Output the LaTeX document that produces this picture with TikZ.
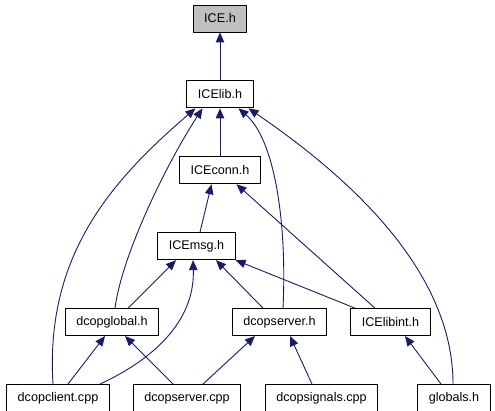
\documentclass[tikz,border=0pt]{standalone}
\usepackage{fontspec}
\setmainfont{Liberation Sans}
\usepackage{tikz}
\usetikzlibrary{arrows.meta, positioning}

\definecolor{edgeblue}{HTML}{191970}
\definecolor{rootgray}{HTML}{BFBFBF}

\begin{document}
\begin{tikzpicture}[
        x=1pt, y=1pt,
        node distance=48pt,
        file/.style={draw, fill=white, rectangle, line width=0.9pt, minimum height=27pt, inner xsep=11pt, font=\fontsize{12.6}{14}\selectfont},
        dep/.style={-{Triangle[length=10pt, width=8.5pt, fill=edgeblue]}, draw=edgeblue, line width=0.9pt}
    ]
        \useasboundingbox (0,0) rectangle (495,-411);
        % Nodes
        \node (ice) [file, fill=rootgray] at (220,-18.5) {ICE.h};
        \node (icelib) [file, below=of ice] {ICElib.h};
        \node (iceconn) [file, below=of icelib] {ICEconn.h};
        \node (icemsg) [file, below=of iceconn, xshift=-23.5] {ICEmsg.h};
        \node (dcopglobal) [file, below=of icemsg, xshift=-84.5] {dcopglobal.h};
        \node (dcopserverh) [file, below=of icemsg, xshift=83] {dcopserver.h};
        \node (icelibint) [file, below=of icemsg, xshift=194] {ICElibint.h};
        \node (dcopclient) [file, below=of dcopglobal, xshift=-54] {dcopclient.cpp};
        \node (dcopservercpp) [file, below=of dcopglobal, xshift=75] {dcopserver.cpp};
        \node (dcopsignals) [file, below=of dcopserverh, xshift=42] {dcopsignals.cpp};
        \node (globals) [file, below=of icelibint, xshift=63.5] {globals.h};

        % Paths
        \draw [dep] (icelib) -- (ice);
        \draw [dep] (iceconn) -- (icelib);
        \draw [dep] ([xshift=-5]dcopclient.north) .. controls +(-8,128) and +(-85,-73) .. ([xshift=-24.5]icelib.south);
        \draw [dep] ([xshift=3]dcopglobal.north) .. controls +(7,53) and +(-37,-57) .. ([xshift=-17.5]icelib.south);
        \draw [dep] ([xshift=3.5]dcopserverh.north) .. controls +(4,83) and +(37,-32) .. ([xshift=18.5]icelib.south);
        \draw [dep] ([xshift=-1]globals.north) .. controls +(0,88) and +(142,-97) .. ([xshift=28.5]icelib.south);
        \draw [dep] ([xshift=3.5]icemsg.north) -- ([xshift=-8.5]iceconn.south);
        \draw [dep] ([xshift=-15.5]icelibint.north) -- ([xshift=16.5]iceconn.south);
        \draw [dep] ([xshift=16]dcopglobal.north) -- ([xshift=-20.5]icemsg.south);
        \draw [dep] ([xshift=42]dcopclient.north) .. controls +(50,23) and +(2,-63) .. ([xshift=-3.5]icemsg.south);
        \draw [dep] ([xshift=-16.5]dcopserverh.north) -- ([xshift=19.5]icemsg.south);
        \draw [dep] ([xshift=-35.5]icelibint.north) -- (icemsg.south east);
        \draw [dep] ([xshift=10]dcopclient.north) -- ([xshift=-7]dcopglobal.south);
        \draw [dep] ([xshift=-14]dcopservercpp.north) -- ([xshift=13]dcopglobal.south);
        \draw [dep] ([xshift=16]dcopservercpp.north) -- ([xshift=-24.5]dcopserverh.south);
        \draw [dep] ([xshift=-9.5]dcopsignals.north) -- ([xshift=10.5]dcopserverh.south);
        \draw [dep] ([xshift=-13]globals.north) -- ([xshift=14.5]icelibint.south);
    \end{tikzpicture}
\end{document}
